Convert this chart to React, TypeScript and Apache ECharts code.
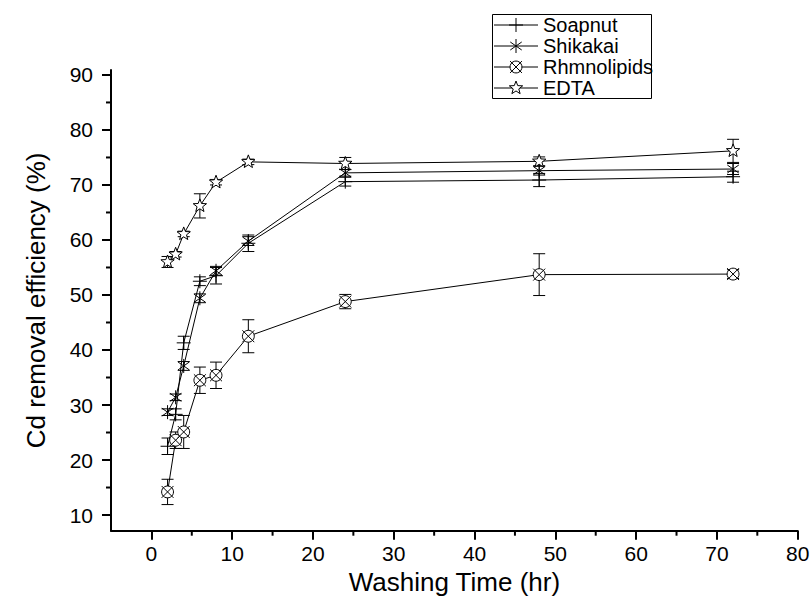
import React, { useEffect, useRef } from "react";
import * as echarts from "echarts";

const washingTime = [2, 3, 4, 6, 8, 12, 24, 48, 72];
const seriesNames = ["Soapnut", "Shikakai", "Rhmnolipids", "EDTA"];
const soapnut = [22.5, 28.3, 41.3, 52.5, 53.5, 59.4, 70.6, 70.9, 71.5];
const soapnutErr = [1.5, 1.0, 1.2, 0.8, 1.5, 1.5, 0.8, 1.2, 1.0];
const shikakai = [28.7, 31.4, 37.1, 49.4, 54.4, 59.8, 72.2, 72.6, 72.9];
const shikakaiErr = [0.6, 0.6, 0.8, 0.8, 0.8, 0.8, 0.6, 0.8, 1.0];
const rhmnolipids = [14.2, 23.6, 25.1, 34.5, 35.4, 42.5, 48.8, 53.7, 53.8];
const rhmnolipidsErr = [2.3, 1.5, 3.0, 2.4, 2.4, 3.0, 1.3, 3.8, 0.8];
const edta = [56.0, 57.4, 61.1, 66.2, 70.5, 74.2, 73.9, 74.3, 76.2];
const edtaErr = [1.0, 0.5, 0.5, 2.2, 0.5, 0.5, 1.1, 0.8, 2.1];

const xMajorTicks = [0, 10, 20, 30, 40, 50, 60, 70, 80];
const xMinorTicks = [5, 15, 25, 35, 45, 55, 65, 75];
const yMajorTicks = [10, 20, 30, 40, 50, 60, 70, 80, 90];
const yMinorTicks = [15, 25, 35, 45, 55, 65, 75, 85];

const FONT = "'Liberation Sans', Arial, Helvetica, sans-serif";

type Kind = "plus" | "asterisk" | "crossCircle" | "star";
const kinds: Kind[] = ["plus", "asterisk", "crossCircle", "star"];

function ln(x1: number, y1: number, x2: number, y2: number, w = 1) {
  return { type: "line", shape: { x1, y1, x2, y2 }, style: { stroke: "#000", lineWidth: w } };
}

function markerShapes(kind: Kind, cx: number, cy: number, r: number): any[] {
  if (kind === "plus") {
    return [ln(cx - r, cy, cx + r, cy), ln(cx, cy - r, cx, cy + r)];
  }
  if (kind === "asterisk") {
    const a = (35 * Math.PI) / 180;
    const dx = r * Math.cos(a);
    const dy = r * Math.sin(a);
    return [
      ln(cx, cy - r, cx, cy + r),
      ln(cx - dx, cy - dy, cx + dx, cy + dy),
      ln(cx - dx, cy + dy, cx + dx, cy - dy),
    ];
  }
  if (kind === "crossCircle") {
    const c = r * 0.85;
    return [
      { type: "circle", shape: { cx, cy, r: c }, style: { stroke: "#000", lineWidth: 1, fill: "#fff" } },
      ln(cx - c, cy - c, cx + c, cy + c),
      ln(cx - c, cy + c, cx + c, cy - c),
    ];
  }
  const pts: number[][] = [];
  for (let i = 0; i < 10; i++) {
    const rr = i % 2 === 0 ? r : r * 0.42;
    const ang = -Math.PI / 2 + (i * Math.PI) / 5;
    pts.push([cx + rr * Math.cos(ang), cy + rr * Math.sin(ang)]);
  }
  return [{ type: "polygon", shape: { points: pts }, style: { stroke: "#000", lineWidth: 1, fill: "#fff" } }];
}

export default function App() {
  const ref = useRef<HTMLDivElement>(null);
  useEffect(() => {
    document.body.style.margin = "0";
    if (!ref.current) return;
    const chart = echarts.init(ref.current, undefined, { renderer: "svg" });
    const values = [soapnut, shikakai, rhmnolipids, edta];
    const errs = [soapnutErr, shikakaiErr, rhmnolipidsErr, edtaErr];

    const series: any[] = [];
    values.forEach((vals, si) => {
      series.push({
        type: "line",
        name: seriesNames[si],
        symbol: "none",
        lineStyle: { color: "#000", width: 1 },
        data: washingTime.map((x, i) => [x, vals[i]]),
        z: 2,
      });
    });
    values.forEach((vals, si) => {
      series.push({
        type: "custom",
        name: seriesNames[si] + " markers",
        z: 3 + si,
        data: washingTime.map((x, i) => [x, vals[i], errs[si][i]]),
        renderItem: (params: any, api: any) => {
          const x = api.value(0);
          const y = api.value(1);
          const e = api.value(2);
          const c = api.coord([x, y]);
          const top = api.coord([x, y + e]);
          const bot = api.coord([x, y - e]);
          const cap = 6;
          const children: any[] = [
            ln(c[0], top[1], c[0], bot[1]),
            ln(c[0] - cap, top[1], c[0] + cap, top[1]),
            ln(c[0] - cap, bot[1], c[0] + cap, bot[1]),
            ...markerShapes(kinds[si], c[0], c[1], 7),
          ];
          return { type: "group", children };
        },
      });
    });
    // minor ticks, placed through the axis scales
    series.push({
      type: "custom",
      name: "y minor ticks",
      clip: false,
      silent: true,
      z: 10,
      data: yMinorTicks.map((v) => [0, v]),
      renderItem: (params: any, api: any) => {
        const cs = params.coordSys;
        const p = api.coord([0, api.value(1)]);
        return { type: "line", shape: { x1: cs.x - 5, y1: p[1], x2: cs.x, y2: p[1] }, style: { stroke: "#000", lineWidth: 2 } };
      },
    });
    series.push({
      type: "custom",
      name: "x minor ticks",
      clip: false,
      silent: true,
      z: 10,
      data: xMinorTicks.map((v) => [v, 50]),
      renderItem: (params: any, api: any) => {
        const cs = params.coordSys;
        const p = api.coord([api.value(0), 50]);
        const yb = cs.y + cs.height;
        return { type: "line", shape: { x1: p[0], y1: yb, x2: p[0], y2: yb + 5 }, style: { stroke: "#000", lineWidth: 2 } };
      },
    });

    const legendChildren: any[] = [
      { type: "rect", shape: { x: 492.5, y: 14.5, width: 159, height: 84 }, style: { stroke: "#000", lineWidth: 1, fill: "#fff" } },
    ];
    seriesNames.forEach((name, i) => {
      const yy = 25 + i * 21;
      legendChildren.push(ln(494, yy, 538, yy));
      legendChildren.push(...markerShapes(kinds[i], 516, yy, 7));
      legendChildren.push({
        type: "text",
        x: 543,
        y: yy,
        style: { text: name, font: `20px ${FONT}`, fill: "#000", verticalAlign: "middle", align: "left" },
      });
    });

    chart.setOption({
      animation: false,
      backgroundColor: "#fff",
      grid: { left: 111, right: 13.3, top: 70, bottom: 69.3, containLabel: false, outerBoundsMode: "none" },
      xAxis: {
        type: "value",
        min: -5,
        max: 80,
        axisLine: { show: true, onZero: false, lineStyle: { color: "#000", width: 2 } },
        splitLine: { show: false },
        name: "Washing Time (hr)",
        nameLocation: "middle",
        nameGap: 38,
        nameTextStyle: { fontFamily: FONT, fontSize: 26, color: "#000" },
        axisTick: { show: true, inside: false, length: 9, customValues: xMajorTicks, lineStyle: { color: "#000", width: 2 } },
        axisLabel: { show: true, customValues: xMajorTicks, fontFamily: FONT, fontSize: 21, color: "#000", margin: 12 },
      },
      yAxis: {
        type: "value",
        min: 7.15,
        max: 90.9,
        axisLine: { show: true, onZero: false, lineStyle: { color: "#000", width: 2 } },
        splitLine: { show: false },
        name: "Cd removal efficiency (%)",
        nameLocation: "middle",
        nameGap: 62,
        nameTextStyle: { fontFamily: FONT, fontSize: 26, color: "#000" },
        axisTick: { show: true, inside: false, length: 9, customValues: yMajorTicks, lineStyle: { color: "#000", width: 2 } },
        axisLabel: { show: true, customValues: yMajorTicks, fontFamily: FONT, fontSize: 21, color: "#000", margin: 18 },
      },
      series,
      graphic: [{ type: "group", children: legendChildren, z: 100 }],
    });
    return () => chart.dispose();
  }, []);
  return <div ref={ref} style={{ width: 811, height: 600 }} />;
}
